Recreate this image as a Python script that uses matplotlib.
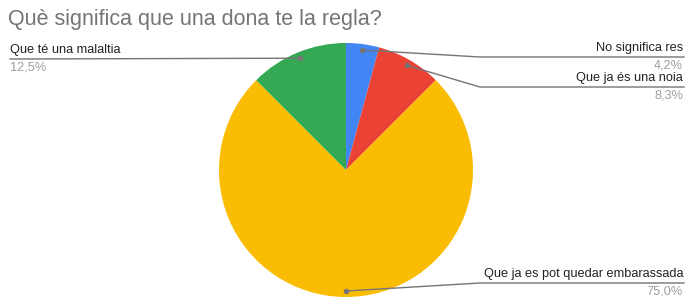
import numpy as np
import matplotlib
matplotlib.use('Agg')
import matplotlib.pyplot as plt

plt.rcParams['font.family'] = ['Liberation Sans', 'DejaVu Sans']

labels = ["No significa res", "Que ja és una noia", "Que ja es pot quedar embarassada", "Que té una malaltia"]
values = [4.2, 8.3, 75.0, 12.5]
pct_text = ["4,2%", "8,3%", "75,0%", "12,5%"]
colors = ["#4285F4", "#EA4335", "#FBBC04", "#34A853"]

W, H = 686, 297
fig = plt.figure(figsize=(W / 100, H / 100), dpi=100)
ax = fig.add_axes([0, 0, 1, 1])

cx, cy, R = 346, H - 170, 127
wedges, _ = ax.pie(values, colors=colors, startangle=90, counterclock=False,
                   center=(cx, cy), radius=R, frame=True,
                   wedgeprops=dict(linewidth=0))
ax.set_xlim(0, W)
ax.set_ylim(0, H)
ax.set_aspect('equal')
ax.axis('off')

# leader line layout: (elbow x, line y in pixels from top, side)
layout = [(480, 57, 'r'), (480, 87, 'r'), (480, 283, 'r'), (None, 59, 'l')]
line_col = "#757575"
for w, lab, pt, (ex, ly, side) in zip(wedges, labels, pct_text, layout):
    ang = np.deg2rad((w.theta1 + w.theta2) / 2)
    dx, dy = cx + 121 * np.cos(ang), cy + 121 * np.sin(ang)
    y = H - ly
    ax.plot(dx, dy, 'o', color=line_col, ms=3, zorder=5)
    if side == 'r':
        ax.plot([dx, ex, 684], [dy, y, y], color=line_col, lw=1, zorder=4)
        ax.text(683, y + 3, lab, ha='right', va='bottom', fontsize=9.2, color="#222222")
        ax.text(683, y - 2, pt, ha='right', va='top', fontsize=9.2, color="#9e9e9e")
    else:
        ax.plot([10, dx], [y, dy], color=line_col, lw=1, zorder=4)
        ax.text(10, y + 3, lab, ha='left', va='bottom', fontsize=9.2, color="#222222")
        ax.text(10, y - 2, pt, ha='left', va='top', fontsize=9.2, color="#9e9e9e")

fig.text(8 / W, 1 - 9 / H, "Què significa que una dona te la regla?", ha='left', va='top',
         fontsize=15.5, color="#757575")

fig.savefig("out.png", dpi=100)
